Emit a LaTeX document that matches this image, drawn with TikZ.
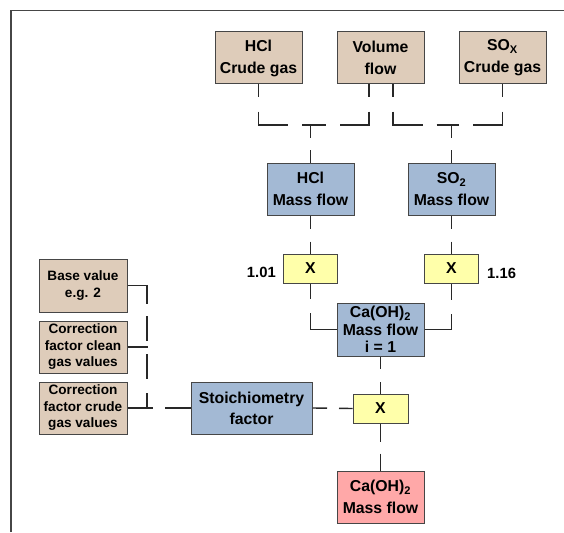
\documentclass[tikz,border=0pt]{standalone}
\usepackage{fontspec}
\setmainfont{Liberation Sans}
\definecolor{tanbox}{RGB}{222,204,186}
\definecolor{bluebox}{RGB}{163,185,212}
\definecolor{yellowbox}{RGB}{255,255,170}
\definecolor{pinkbox}{RGB}{255,168,168}
\definecolor{edgegray}{RGB}{70,70,70}
\definecolor{linegray}{RGB}{40,40,40}
\begin{document}
\begin{tikzpicture}[x=1pt,y=-1pt,
  box/.style={draw=edgegray, line width=1pt, inner sep=0pt, align=center,
    font=\bfseries\fontsize{15.8}{22}\selectfont, minimum width=87pt, minimum height=52pt},
  tanb/.style={box, fill=tanbox},
  blueb/.style={box, fill=bluebox},
  yelb/.style={box, fill=yellowbox, minimum width=54pt, minimum height=29pt},
  pinkb/.style={box, fill=pinkbox},
  smallb/.style={box, fill=tanbox, minimum width=88pt,
    font=\bfseries\fontsize{13.6}{16.5}\selectfont},
  conn/.style={draw=linegray, line width=1.4pt},
  lbl/.style={inner sep=0pt, font=\bfseries\fontsize{14.8}{17}\selectfont}
]
\useasboundingbox (0,0) rectangle (564,532);
% frame (top and left edges)
\draw[draw=edgegray, line width=1.6pt] (11,532) -- (11,10.5) -- (564,10.5);

% top row
\node[tanb] (hclcrude) at (258.5,58) {HCl\\Crude gas};
\node[tanb] (vol) at (380.5,58) {Volume\\flow};
\node[tanb] (soxcrude) at (502.5,58) {SO\textsubscript{X}\\Crude gas};

% mass flows
\node[blueb] (hclmass) at (310.5,189) {HCl\\Mass flow};
\node[blueb] (so2mass) at (451.5,189) {SO\textsubscript{2}\\Mass flow};

% multipliers
\node[yelb] (x1) at (310.5,268.5) {X};
\node[yelb] (x2) at (451.5,268.5) {X};
\node[lbl, anchor=east] (f1) at (276,272.5) {1.01};
\node[lbl, anchor=west] (f2) at (487,273.5) {1.16};

\node[blueb, minimum height=53pt, font=\bfseries\fontsize{15.8}{17.5}\selectfont] (caoh) at (380.5,329.5) {Ca(OH)\textsubscript{2}\\Mass flow\\i = 1};
\node[yelb, minimum width=55pt] (x3) at (380.5,408.5) {X};
\node[pinkb] (result) at (380.5,497) {Ca(OH)\textsubscript{2}\\Mass flow};
\node[blueb, minimum width=121pt, font=\bfseries\fontsize{15.8}{21}\selectfont] (stoich) at (251.5,408) {Stoichiometry\\factor};

% left column
\node[smallb, minimum height=53pt] (base) at (83,285.5) {Base value\\e.g. 2};
\node[smallb] (clean) at (83,347) {Correction\\factor clean\\gas values};
\node[smallb] (crude) at (83,408) {Correction\\factor crude\\gas values};

% junctions
\coordinate (j1) at (310.5,125);
\coordinate (j2) at (451.5,125);
\coordinate (jl) at (147,408);

% top connectors
\draw[conn, dash pattern=on 43pt off 14pt, dash phase=30pt] (hclcrude.south) |- (j1);
\draw[conn, dash pattern=on 43pt off 14pt, dash phase=30pt] ([xshift=-11.5pt]vol.south) |- (j1);
\draw[conn, dash pattern=on 43pt off 14pt, dash phase=30pt] ([xshift=12.5pt]vol.south) |- (j2);
\draw[conn, dash pattern=on 43pt off 14pt, dash phase=30pt] (soxcrude.south) |- (j2);
\draw[conn, dash pattern=on 13pt off 12pt] (j1) -- (hclmass.north);
\draw[conn, dash pattern=on 13pt off 12pt] (j2) -- (so2mass.north);

% mass flow to multipliers
\draw[conn, dash pattern=on 13pt off 13pt] (hclmass.south) -- (x1.north);
\draw[conn, dash pattern=on 13pt off 13pt] (so2mass.south) -- (x2.north);

% multipliers to Ca(OH)2
\draw[conn, dash pattern=on 43pt off 14pt] (caoh.west) -| (x1.south);
\draw[conn, dash pattern=on 43pt off 14pt] (caoh.east) -| (x2.south);

% Ca(OH)2 to final multiplier
\draw[conn, dash pattern=on 12.5pt off 13pt] (caoh.south) -- (x3.north);
\draw[conn, dash pattern=on 18pt off 12pt] (x3.south) -- (result.north);
\draw[conn, dash pattern=on 14.5pt off 12pt] (stoich.east) -- (x3.west);

% left connectors
\draw[conn, dash pattern=on 38pt off 12pt on 25pt off 13pt on 25pt off 14pt on 20pt off 13pt on 26pt off 60pt] (base.east) -| (jl) -- (stoich.west);
\draw[conn, dash pattern=on 20pt off 200pt] (clean.east) -| (jl);
\draw[conn, dash pattern=on 25pt off 13pt] (crude.east) -- (stoich.west);
\end{tikzpicture}
\end{document}
